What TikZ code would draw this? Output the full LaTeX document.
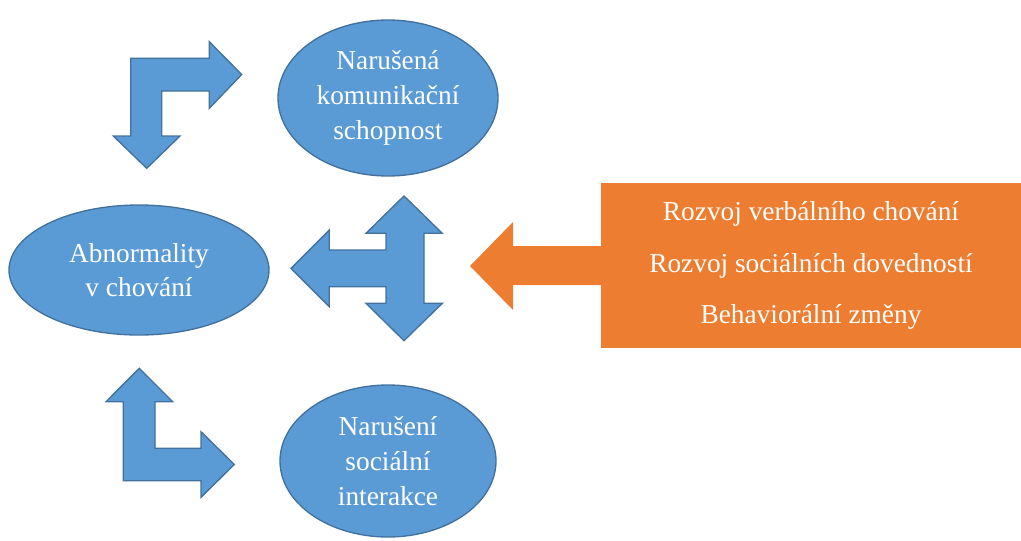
\documentclass[tikz,border=0pt]{standalone}
\usepackage{fontspec}
\setmainfont{Liberation Serif}
\usetikzlibrary{shapes.geometric}
\definecolor{bfill}{HTML}{5B9BD5}
\definecolor{bline}{HTML}{41719C}
\definecolor{ofill}{HTML}{ED7D31}
\begin{document}
\begin{tikzpicture}[x=0.75pt,y=-0.75pt,
  oval/.style={ellipse, draw=bline, fill=bfill, line width=1pt, text=white, align=center,
    font=\fontsize{20.5}{26}\selectfont, inner sep=0pt},
  obox/.style={rectangle, fill=ofill, text=white, align=center,
    font=\fontsize{20.5}{38.5}\selectfont, inner sep=0pt},
  barrow/.style={draw=bline, fill=bfill, line width=1pt, line join=miter},
  oarrow/.style={fill=ofill},
]
\useasboundingbox (0,0) rectangle (1021,540);

% ellipses
\node[oval, minimum width=165pt, minimum height=117pt] (komu) at (388,98)
  {Narušená\\komunikační\\schopnost};
\node[oval, minimum width=162pt, minimum height=114pt] (soc) at (388,461)
  {Narušení\\sociální\\interakce};
\node[oval, minimum width=195pt, minimum height=97.5pt] (abn) at (139,270)
  {Abnormality\\v chování};

% orange box
\node[obox, minimum width=315pt, minimum height=123.75pt] (box) at (811,265.5)
  {Rozvoj verbálního chování\\Rozvoj sociálních dovedností\\Behaviorální změny};

% orange arrow
\fill[oarrow] (601,246) -- (513,246) -- (513,222) -- (470,266) -- (513,310)
  -- (513,285) -- (601,285) -- cycle;

% top bent arrow
\draw[barrow] (130.7,58.3) -- (209.3,58.3) -- (209.3,41.7) -- (241.7,74.5)
  -- (209.3,108.3) -- (209.3,91) -- (161.7,91) -- (161.7,136) -- (180,136)
  -- (146.7,168.3) -- (113.3,136) -- (130.7,136) -- cycle;

% bottom bent arrow
\draw[barrow] (139.3,368.3) -- (172.7,401.7) -- (155,401.7) -- (155,448.3)
  -- (201,448.3) -- (201,431.7) -- (234.3,464.5) -- (201,497.3) -- (201,480.7)
  -- (123.3,480.7) -- (123.3,401.7) -- (106,401.7) -- cycle;

% middle three-way arrow
\draw[barrow] (291,268.3) -- (329.3,230) -- (329.3,250) -- (386,250)
  -- (386,233.3) -- (366,233.3) -- (404,196) -- (442.3,233.3) -- (424,233.3)
  -- (424,303.3) -- (442.3,303.3) -- (404,340.7) -- (366,303.3) -- (386,303.3)
  -- (386,286.7) -- (329.3,286.7) -- (329.3,306.7) -- cycle;
\end{tikzpicture}
\end{document}
